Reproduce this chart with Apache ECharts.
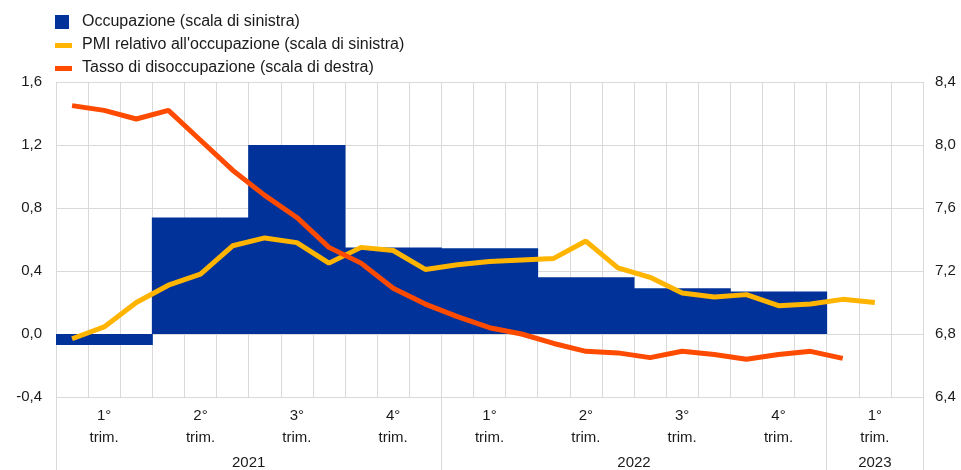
<!DOCTYPE html>
<html>
<head>
<meta charset="utf-8">
<script src="https://cdn.jsdelivr.net/npm/echarts@6/dist/echarts.min.js"></script>
<style>
html,body{margin:0;padding:0;background:#fff;}
#chart{width:961px;height:470px;}
</style>
</head>
<body>
<div id="chart"></div>
<script>
const months = ['2021-01','2021-02','2021-03','2021-04','2021-05','2021-06','2021-07','2021-08','2021-09','2021-10','2021-11','2021-12',
  '2022-01','2022-02','2022-03','2022-04','2022-05','2022-06','2022-07','2022-08','2022-09','2022-10','2022-11','2022-12',
  '2023-01','2023-02','2023-03'];
const quarterLabels = ['1°\ntrim.','2°\ntrim.','3°\ntrim.','4°\ntrim.','1°\ntrim.','2°\ntrim.','3°\ntrim.','4°\ntrim.','1°\ntrim.'];
const yearLabels = ['2021','2022','2023'];
const yearCenters = [6, 18, 25.5]; // in months from start
const yearStartQuarters = [0, 4, 8];
const occupazione = [-0.07, 0.74, 1.20, 0.55, 0.545, 0.36, 0.29, 0.27, null];
const pmi = [-0.03, 0.045, 0.20, 0.31, 0.38, 0.56, 0.61, 0.58, 0.45, 0.55, 0.53, 0.41,
  0.44, 0.46, 0.47, 0.48, 0.59, 0.42, 0.36, 0.26, 0.235, 0.25, 0.18, 0.19,
  0.22, 0.20, null];
const disoccupazione = [8.25, 8.22, 8.165, 8.22, 8.03, 7.84, 7.68, 7.54, 7.35, 7.25, 7.09, 6.99,
  6.91, 6.84, 6.80, 6.74, 6.69, 6.68, 6.65, 6.69, 6.67, 6.64, 6.67, 6.69,
  6.645, null, null];

const FONT = 'Liberation Sans, Arial, sans-serif';
const GRID = '#d9d9d9';
const TXT = '#1a1a1a';
const fmt = v => v.toFixed(1).replace('.', ',');
const lineIcon = 'path://M0,0M0,5h17v5h-17zM17,14';
const squareIcon = 'path://M0,0h14v14h-14zM17,14';

const chart = echarts.init(document.getElementById('chart'));
chart.setOption({
  animation: false,
  textStyle: {fontFamily: FONT},
  legend: {
    orient: 'vertical', left: 55, top: 14, itemGap: 7, padding: 0,
    itemWidth: 17, itemHeight: 14,
    textStyle: {fontFamily: FONT, fontSize: 16, color: TXT, padding: [0,0,0,5]},
    data: [
      {name: 'Occupazione (scala di sinistra)', icon: squareIcon},
      {name: "PMI relativo all'occupazione (scala di sinistra)", icon: lineIcon},
      {name: 'Tasso di disoccupazione (scala di destra)', icon: lineIcon}
    ]
  },
  grid: {left: 56, right: 38, top: 82, bottom: 73},
  xAxis: [
    {type: 'category', data: months, position: 'bottom', boundaryGap: true,
     axisLine: {show: false, onZero: false}, axisTick: {show: false}, axisLabel: {show: false},
     splitLine: {show: true, interval: 0, lineStyle: {color: GRID, width: 1}}},
    {type: 'category', data: quarterLabels, position: 'bottom', boundaryGap: true,
     axisLine: {show: false, onZero: false},
     axisTick: {show: true, length: 73, lineStyle: {color: GRID, width: 1},
       interval: (i) => yearStartQuarters.indexOf(i) >= 0},
     axisLabel: {interval: 0, margin: 8, fontSize: 15, lineHeight: 22, color: TXT, fontFamily: FONT},
     splitLine: {show: false}},
    {type: 'value', min: 0, max: 27, interval: 1.5, position: 'bottom',
     axisLine: {show: false, onZero: false}, axisTick: {show: false}, splitLine: {show: false},
     axisLabel: {margin: 58, fontSize: 15, color: TXT, fontFamily: FONT,
       showMinLabel: true, showMaxLabel: true,
       formatter: (v) => { const k = yearCenters.indexOf(v); return k >= 0 ? yearLabels[k] : ''; }}}
  ],
  yAxis: [
    {type: 'value', min: -0.4, max: 1.6, interval: 0.4, position: 'left',
     axisLine: {show: false}, axisTick: {show: false},
     axisLabel: {formatter: fmt, fontSize: 15, color: TXT, margin: 14, fontFamily: FONT},
     splitLine: {show: true, lineStyle: {color: GRID, width: 1}}},
    {type: 'value', min: 6.4, max: 8.4, interval: 0.4, position: 'right',
     axisLine: {show: false}, axisTick: {show: false},
     axisLabel: {formatter: fmt, fontSize: 15, color: TXT, margin: 12, fontFamily: FONT},
     splitLine: {show: false}}
  ],
  series: [
    {name: 'Occupazione (scala di sinistra)', type: 'bar', xAxisIndex: 1, yAxisIndex: 0,
     data: occupazione, barWidth: '101%', barCategoryGap: '0%',
     itemStyle: {color: '#003299'}, z: 2},
    {name: "PMI relativo all'occupazione (scala di sinistra)", type: 'line', xAxisIndex: 0, yAxisIndex: 0,
     data: pmi, symbol: 'none', showSymbol: false,
     lineStyle: {color: '#FFB400', width: 5}, itemStyle: {color: '#FFB400'}, z: 3},
    {name: 'Tasso di disoccupazione (scala di destra)', type: 'line', xAxisIndex: 0, yAxisIndex: 1,
     data: disoccupazione, symbol: 'none', showSymbol: false,
     lineStyle: {color: '#FF4B00', width: 5}, itemStyle: {color: '#FF4B00'}, z: 4}
  ]
});
</script>
</body>
</html>
